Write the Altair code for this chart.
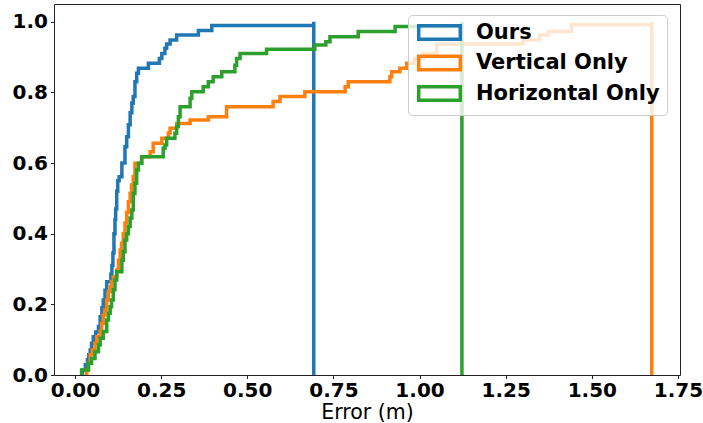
import altair as alt
import pandas as pd

# Step CDF breakpoints (x = error in m, y = cumulative fraction)
ours_x = [0.022, 0.022, 0.030, 0.036, 0.040, 0.044, 0.048, 0.053, 0.060, 0.068, 0.073, 0.078,
          0.082, 0.087, 0.092, 0.104, 0.107, 0.110, 0.113, 0.116, 0.118, 0.121, 0.124, 0.128,
          0.136, 0.145, 0.150, 0.155, 0.160, 0.165, 0.169, 0.174, 0.179, 0.184, 0.213, 0.245,
          0.252, 0.261, 0.266, 0.276, 0.295, 0.358, 0.397, 0.693, 0.693]
ours_y = [0.0, 0.014, 0.029, 0.043, 0.057, 0.071, 0.090, 0.108, 0.122, 0.137, 0.165, 0.190,
          0.212, 0.240, 0.264, 0.285, 0.310, 0.345, 0.400, 0.440, 0.470, 0.520, 0.550, 0.561,
          0.600, 0.646, 0.674, 0.708, 0.742, 0.770, 0.788, 0.830, 0.854, 0.868, 0.882, 0.896,
          0.910, 0.925, 0.937, 0.948, 0.962, 0.975, 0.989, 1.0, 0.0]

vert_x = [0.034, 0.034, 0.039, 0.044, 0.050, 0.058, 0.063, 0.073, 0.077, 0.082, 0.087, 0.092,
          0.097, 0.102, 0.106, 0.111, 0.121, 0.126, 0.131, 0.135, 0.140, 0.145, 0.150, 0.155,
          0.160, 0.164, 0.169, 0.174, 0.193, 0.218, 0.227, 0.252, 0.271, 0.276, 0.295, 0.334,
          0.387, 0.440, 0.575, 0.595, 0.667, 0.784, 0.793, 0.914, 0.919, 0.943, 0.963, 0.985,
          1.011, 1.050, 1.300, 1.349, 1.374, 1.441, 1.674, 1.674]
vert_y = [0.0, 0.014, 0.033, 0.057, 0.071, 0.090, 0.108, 0.123, 0.146, 0.170, 0.184, 0.212,
          0.236, 0.250, 0.264, 0.278, 0.297, 0.325, 0.354, 0.373, 0.400, 0.430, 0.460, 0.490,
          0.514, 0.538, 0.561, 0.599, 0.618, 0.632, 0.656, 0.670, 0.685, 0.698, 0.712, 0.722,
          0.731, 0.759, 0.774, 0.788, 0.802, 0.816, 0.830, 0.844, 0.858, 0.868, 0.882, 0.896,
          0.910, 0.937, 0.948, 0.962, 0.972, 0.991, 1.0, 0.0]

horiz_x = [0.019, 0.019, 0.039, 0.048, 0.058, 0.068, 0.073, 0.082, 0.092, 0.097, 0.102, 0.106,
           0.111, 0.116, 0.121, 0.136, 0.140, 0.145, 0.150, 0.155, 0.160, 0.165, 0.169, 0.174,
           0.179, 0.184, 0.194, 0.256, 0.261, 0.266, 0.290, 0.295, 0.300, 0.305, 0.334, 0.339,
           0.372, 0.387, 0.401, 0.426, 0.464, 0.469, 0.479, 0.556, 0.696, 0.728, 0.740, 0.822,
           0.929, 1.123, 1.123]
horiz_y = [0.0, 0.014, 0.033, 0.047, 0.066, 0.085, 0.104, 0.123, 0.156, 0.175, 0.193, 0.212,
           0.241, 0.269, 0.292, 0.325, 0.349, 0.382, 0.400, 0.420, 0.444, 0.467, 0.514, 0.543,
           0.580, 0.599, 0.618, 0.642, 0.651, 0.670, 0.684, 0.703, 0.731, 0.759, 0.783, 0.802,
           0.816, 0.830, 0.844, 0.858, 0.877, 0.896, 0.910, 0.922, 0.934, 0.943, 0.957, 0.972,
           0.986, 1.0, 0.0]

series_names = ["Ours", "Vertical Only", "Horizontal Only"]
series_colors = ["#1f77b4", "#ff7f0e", "#2ca02c"]
x_ticks = [0.0, 0.25, 0.5, 0.75, 1.0, 1.25, 1.5, 1.75]
y_ticks = [0.0, 0.2, 0.4, 0.6, 0.8, 1.0]

frames = []
for name, xs, ys in zip(series_names, [ours_x, vert_x, horiz_x], [ours_y, vert_y, horiz_y]):
    frames.append(pd.DataFrame({"x": xs, "y": ys, "series": name, "i": range(len(xs))}))
df = pd.concat(frames, ignore_index=True)

FONT = "DejaVu Sans"

color = alt.Color(
    "series:N",
    scale=alt.Scale(domain=series_names, range=series_colors),
    legend=alt.Legend(
        title=None,
        orient="none",
        legendX=354,
        legendY=11,
        padding=7,
        fillColor="rgba(255,255,255,0.8)",
        strokeColor="#cccccc",
        cornerRadius=4,
        symbolType="M-2.6,-0.83L2.6,-0.83L2.6,0.83L-2.6,0.83Z",
        symbolSize=256,
        symbolStrokeWidth=3.5,
        symbolOffset=14,
        labelOffset=26,
        labelFont=FONT,
        labelFontSize=21,
        labelFontWeight="bold",
        labelColor="black",
        labelLimit=400,
        rowPadding=1.5,
    ),
)

base = alt.Chart(df).mark_line(interpolate="step-after", strokeWidth=3.5, clip=True).encode(
    x=alt.X(
        "x:Q",
        scale=alt.Scale(domain=[-0.061, 1.756], nice=False, zero=False),
        axis=alt.Axis(
            title="Error (m)",
            values=x_ticks,
            format=".2f",
            grid=False,
            tickSize=3.5,
            labelPadding=2,
            titleY=43,
            titleBaseline="alphabetic",
        ),
    ),
    y=alt.Y(
        "y:Q",
        scale=alt.Scale(domain=[0, 1.05], nice=False),
        axis=alt.Axis(
            title=None,
            values=y_ticks,
            format=".1f",
            grid=False,
            tickSize=3.5,
            labelPadding=3,
        ),
    ),
    color=color,
    order=alt.Order("i:Q"),
)

layers = [base.transform_filter(alt.datum.series == n) for n in series_names]

chart = alt.layer(*layers).properties(
    width=626,
    height=371,
    autosize=alt.AutoSizeParams(type="none"),
    padding={"left": 54, "top": 4, "right": 23, "bottom": 48},
    background="white",
).configure_view(
    stroke="#222222", strokeWidth=1
).configure_axis(
    labelFont=FONT,
    labelFontSize=20,
    labelFontWeight="bold",
    labelColor="black",
    titleFont=FONT,
    titleFontSize=20.5,
    titleFontWeight="normal",
    titleColor="black",
    domain=False,
    tickColor="#222222",
    tickWidth=1,
)

chart.save("out.html", embed_options={"renderer": "svg", "actions": False})
